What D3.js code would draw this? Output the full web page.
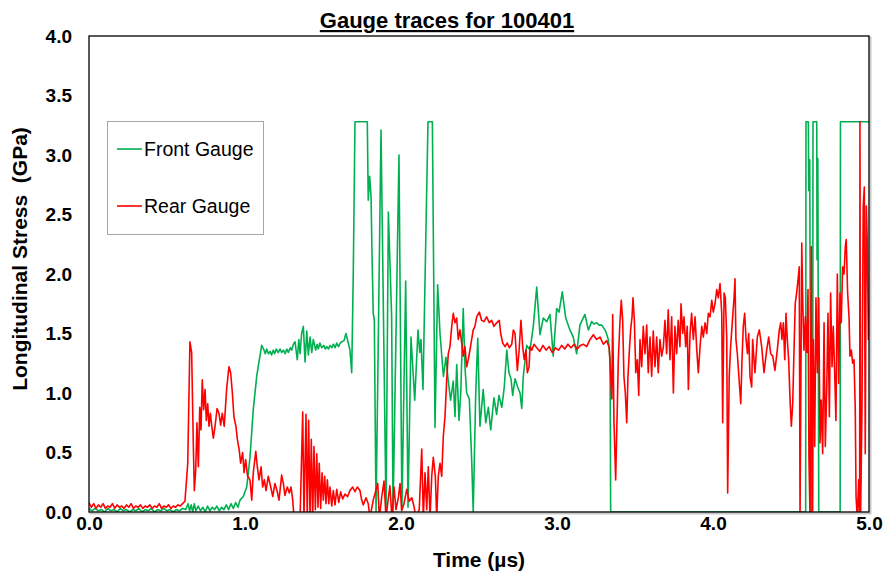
<!DOCTYPE html>
<html>
<head>
<meta charset="utf-8">
<script src="https://cdn.jsdelivr.net/npm/d3@7/dist/d3.min.js"></script>
<style>
  html, body { margin: 0; padding: 0; background: #fff; }
  svg { display: block; font-family: "Liberation Sans", Arial, Helvetica, sans-serif; }
</style>
</head>
<body>
<svg id="chart" width="885" height="576"></svg>
<script>
// Gauge traces for shot 100401 — time in µs, stress in GPa
const chartTitle = "Gauge traces for 100401";
const xTicks = [0, 1, 2, 3, 4, 5];
const yTicks = [0, 0.5, 1, 1.5, 2, 2.5, 3, 3.5, 4];
const seriesNames = ["Front Gauge", "Rear Gauge"];
const seriesColors = ["#00b050", "#ff0000"];

// Front gauge: [time, stress]
const frontGauge = [
  [0,0.03],[0.02,0.01],[0.04,0.03],[0.06,0.01],[0.08,0.02],[0.10,0.00],[0.12,0.03],[0.14,0.01],[0.16,0.02],[0.18,0.00],
  [0.20,0.03],[0.22,0.01],[0.24,0.02],[0.26,0.00],[0.28,0.02],[0.30,0.01],[0.32,0.03],[0.34,0.00],[0.36,0.02],[0.38,0.01],
  [0.40,0.03],[0.42,0.00],[0.44,0.02],[0.46,0.01],[0.48,0.03],[0.50,0.01],[0.52,0.02],[0.54,0.00],[0.56,0.02],[0.58,0.01],
  [0.60,0.03],[0.62,0.02],[0.635,0.07],[0.645,0.01],[0.655,0.06],[0.665,0.00],[0.675,0.07],[0.685,0.01],[0.70,0.05],[0.715,0.01],
  [0.73,0.04],[0.745,0.00],[0.76,0.05],[0.775,0.01],[0.79,0.04],[0.805,0.02],[0.82,0.05],[0.835,0.01],[0.85,0.04],[0.865,0.02],
  [0.88,0.06],[0.895,0.02],[0.91,0.07],[0.925,0.03],[0.94,0.08],[0.955,0.04],[0.968,0.10],[0.989,0.13],[1.011,0.21],[1.032,0.46],
  [1.053,0.86],[1.075,1.14],[1.092,1.28],[1.107,1.40],[1.122,1.36],[1.13,1.33],[1.139,1.37],[1.15,1.33],[1.16,1.35],[1.17,1.32],
  [1.181,1.36],[1.19,1.33],[1.20,1.37],[1.213,1.34],[1.225,1.37],[1.235,1.34],[1.246,1.36],[1.257,1.33],[1.268,1.37],[1.278,1.34],
  [1.29,1.38],[1.299,1.36],[1.31,1.41],[1.321,1.43],[1.335,1.28],[1.345,1.45],[1.353,1.33],[1.363,1.50],[1.374,1.56],[1.385,1.26],
  [1.396,1.52],[1.406,1.32],[1.417,1.47],[1.428,1.34],[1.438,1.45],[1.453,1.36],[1.462,1.41],[1.47,1.37],[1.48,1.42],[1.492,1.38],
  [1.505,1.40],[1.515,1.37],[1.524,1.39],[1.535,1.37],[1.545,1.40],[1.556,1.38],[1.567,1.41],[1.578,1.38],[1.588,1.42],[1.60,1.39],
  [1.61,1.42],[1.62,1.43],[1.635,1.44],[1.647,1.50],[1.662,1.42],[1.673,1.36],[1.684,1.17],[1.694,2.00],[1.705,3.28],[1.784,3.28],
  [1.79,2.62],[1.799,2.82],[1.808,2.65],[1.814,2.18],[1.822,1.67],[1.829,1.61],[1.84,0.00],[1.872,3.21],[1.904,0.00],[1.919,2.52],
  [1.94,1.64],[1.949,0.00],[1.987,3.00],[2.006,0.03],[2.03,1.94],[2.045,0.04],[2.064,1.47],[2.088,0.94],[2.109,1.53],[2.12,1.34],
  [2.128,1.45],[2.141,1.03],[2.173,3.28],[2.201,3.28],[2.218,0.71],[2.235,1.91],[2.25,1.50],[2.272,1.14],[2.288,1.30],[2.303,1.10],
  [2.318,0.94],[2.335,1.10],[2.346,0.80],[2.357,1.24],[2.372,0.77],[2.383,1.00],[2.399,1.71],[2.41,1.22],[2.421,1.00],[2.438,0.95],
  [2.453,0.44],[2.463,0.00],[2.479,1.00],[2.492,1.46],[2.506,0.72],[2.527,1.03],[2.543,0.75],[2.56,0.88],[2.575,0.69],[2.596,0.96],
  [2.613,0.82],[2.628,0.98],[2.646,0.88],[2.662,1.05],[2.678,1.36],[2.692,1.17],[2.705,1.12],[2.716,0.98],[2.731,1.12],[2.748,1.05],
  [2.763,1.00],[2.774,0.87],[2.784,1.14],[2.806,1.40],[2.827,1.36],[2.848,1.56],[2.87,1.89],[2.891,1.49],[2.912,1.63],[2.934,1.60],
  [2.955,1.66],[2.976,1.31],[2.998,1.71],[3.013,1.68],[3.034,1.85],[3.056,1.63],[3.083,1.53],[3.104,1.47],[3.126,1.33],[3.147,1.57],
  [3.179,1.66],[3.201,1.53],[3.222,1.60],[3.238,1.58],[3.254,1.59],[3.27,1.57],[3.287,1.57],[3.312,1.52],[3.329,1.45],[3.34,1.28],
  [3.344,0.00],[4.594,0.00],[4.596,3.28],[4.611,3.28],[4.614,2.70],[4.62,2.96],[4.628,0.00],[4.639,0.00],[4.641,3.28],[4.665,3.28],
  [4.667,2.12],[4.672,2.97],[4.678,0.00],[4.815,0.00],[4.817,3.28],[5.0,3.28]
];

// Rear gauge: [time, stress]
const rearGauge = [
  [0,0.08],[0.015,0.04],[0.03,0.07],[0.045,0.03],[0.06,0.06],[0.075,0.04],[0.09,0.07],[0.105,0.03],[0.12,0.05],[0.135,0.04],
  [0.15,0.07],[0.165,0.03],[0.18,0.06],[0.195,0.04],[0.21,0.05],[0.225,0.03],[0.24,0.06],[0.255,0.04],[0.27,0.07],[0.285,0.03],
  [0.30,0.05],[0.315,0.04],[0.33,0.06],[0.345,0.03],[0.36,0.05],[0.375,0.04],[0.39,0.06],[0.405,0.03],[0.42,0.05],[0.435,0.04],
  [0.45,0.07],[0.465,0.03],[0.48,0.05],[0.495,0.04],[0.51,0.06],[0.525,0.03],[0.54,0.05],[0.555,0.04],[0.57,0.06],[0.585,0.05],
  [0.60,0.07],[0.615,0.09],[0.633,0.41],[0.647,1.43],[0.658,1.34],[0.669,0.55],[0.675,0.18],[0.684,0.35],[0.692,0.75],[0.701,0.38],
  [0.71,0.88],[0.718,0.69],[0.726,1.11],[0.735,0.86],[0.744,1.03],[0.752,0.77],[0.761,0.91],[0.769,0.72],[0.778,0.83],[0.787,0.72],
  [0.797,0.62],[0.808,0.72],[0.821,0.87],[0.833,0.83],[0.844,0.73],[0.854,0.83],[0.867,0.72],[0.882,1.03],[0.897,1.22],[0.908,1.17],
  [0.919,1.00],[0.929,0.80],[0.942,0.72],[0.951,0.61],[0.963,0.52],[0.972,0.41],[0.985,0.50],[0.994,0.33],[1.004,0.44],[1.017,0.30],
  [1.032,0.27],[1.043,0.10],[1.053,0.33],[1.069,0.51],[1.079,0.38],[1.09,0.27],[1.103,0.38],[1.113,0.21],[1.124,0.27],[1.135,0.18],
  [1.149,0.30],[1.165,0.21],[1.178,0.13],[1.192,0.24],[1.207,0.17],[1.218,0.10],[1.235,0.31],[1.246,0.24],[1.256,0.14],[1.271,0.21],
  [1.284,0.16],[1.295,0.21],[1.306,0.10],[1.314,-0.05],[1.327,-0.05],[1.353,-0.05],[1.37,0.84],[1.378,-0.05],[1.391,0.82],[1.399,-0.05],
  [1.408,0.77],[1.417,-0.05],[1.425,0.61],[1.434,-0.05],[1.442,0.55],[1.451,0.02],[1.46,0.49],[1.468,0.04],[1.476,0.41],[1.485,0.03],
  [1.494,0.33],[1.502,0.10],[1.511,0.30],[1.519,0.07],[1.528,0.27],[1.537,0.07],[1.545,0.21],[1.556,0.05],[1.566,0.18],[1.577,0.06],
  [1.588,0.19],[1.601,0.08],[1.613,0.17],[1.626,0.11],[1.641,0.15],[1.658,0.13],[1.673,0.18],[1.69,0.21],[1.705,0.17],[1.72,0.21],
  [1.737,0.18],[1.748,0.10],[1.758,0.06],[1.776,0.12],[1.79,0.07],[1.801,-0.05],[1.822,0.10],[1.851,0.24],[1.861,-0.05],[1.876,0.12],
  [1.891,0.26],[1.904,-0.05],[1.919,0.12],[1.929,0.22],[1.942,-0.05],[1.955,0.21],[1.968,0.02],[1.983,0.12],[1.994,0.24],[2.004,0.01],
  [2.019,0.07],[2.037,0.19],[2.053,0.09],[2.069,0.12],[2.083,0.05],[2.096,-0.05],[2.117,0.02],[2.133,0.53],[2.143,-0.05],[2.154,0.33],
  [2.165,0.02],[2.175,0.38],[2.186,-0.05],[2.197,0.30],[2.207,0.46],[2.22,0.30],[2.229,-0.05],[2.239,0.30],[2.25,0.41],[2.261,0.30],
  [2.271,0.63],[2.282,0.80],[2.293,1.11],[2.303,1.33],[2.314,1.39],[2.325,1.56],[2.335,1.67],[2.346,1.59],[2.357,1.63],[2.367,1.45],
  [2.378,1.53],[2.389,1.42],[2.399,1.31],[2.41,1.39],[2.421,1.22],[2.431,1.28],[2.442,1.36],[2.453,1.45],[2.463,1.53],[2.474,1.56],
  [2.485,1.64],[2.502,1.68],[2.517,1.61],[2.532,1.60],[2.549,1.64],[2.566,1.59],[2.581,1.61],[2.596,1.56],[2.613,1.59],[2.63,1.61],
  [2.639,1.50],[2.652,1.42],[2.667,1.39],[2.681,1.42],[2.694,1.38],[2.71,1.41],[2.72,1.53],[2.731,1.50],[2.746,1.19],[2.756,1.34],
  [2.769,1.61],[2.78,1.39],[2.79,1.28],[2.801,1.36],[2.81,1.17],[2.821,1.22],[2.827,1.39],[2.838,1.36],[2.853,1.41],[2.87,1.38],
  [2.89,1.35],[2.91,1.40],[2.93,1.36],[2.95,1.39],[2.97,1.34],[2.99,1.38],[3.01,1.36],[3.03,1.40],[3.05,1.37],[3.07,1.41],
  [3.09,1.38],[3.11,1.41],[3.13,1.37],[3.15,1.40],[3.169,1.41],[3.19,1.39],[3.212,1.45],[3.233,1.49],[3.254,1.45],[3.276,1.47],
  [3.297,1.41],[3.319,1.44],[3.335,1.38],[3.351,0.95],[3.357,1.66],[3.365,0.77],[3.376,0.27],[3.387,0.91],[3.393,1.28],[3.404,1.61],
  [3.412,1.78],[3.421,1.61],[3.429,1.14],[3.438,1.00],[3.447,0.75],[3.455,1.14],[3.464,1.36],[3.472,1.53],[3.481,1.64],[3.487,1.80],
  [3.496,1.61],[3.505,1.17],[3.515,1.28],[3.524,0.98],[3.532,1.45],[3.543,1.22],[3.553,1.56],[3.564,1.33],[3.575,1.57],[3.585,1.17],
  [3.596,1.47],[3.607,1.14],[3.617,1.52],[3.628,1.22],[3.639,1.47],[3.649,1.17],[3.66,1.45],[3.671,1.31],[3.682,1.39],[3.692,1.61],
  [3.703,1.33],[3.713,1.70],[3.724,1.28],[3.735,1.64],[3.746,1.00],[3.756,1.56],[3.767,1.33],[3.777,1.61],[3.788,1.39],[3.795,1.75],
  [3.806,1.50],[3.814,1.64],[3.825,1.39],[3.835,1.56],[3.842,1.03],[3.853,1.50],[3.863,1.67],[3.874,1.45],[3.885,1.64],[3.896,1.36],
  [3.906,1.17],[3.917,1.39],[3.928,1.56],[3.938,1.47],[3.949,1.59],[3.96,1.50],[3.97,1.67],[3.981,1.64],[3.992,1.78],[4.002,1.68],
  [4.013,1.75],[4.024,1.87],[4.034,1.80],[4.045,1.92],[4.056,1.67],[4.062,0.75],[4.071,1.84],[4.079,1.80],[4.088,1.47],[4.094,0.16],
  [4.104,1.14],[4.113,1.39],[4.126,1.64],[4.135,1.80],[4.141,1.96],[4.147,1.45],[4.156,1.33],[4.169,1.08],[4.178,0.91],[4.186,1.28],
  [4.194,1.56],[4.203,1.67],[4.212,1.45],[4.221,1.33],[4.229,1.50],[4.237,1.14],[4.248,1.05],[4.254,1.45],[4.269,1.17],[4.284,1.47],
  [4.297,1.53],[4.312,1.39],[4.327,1.17],[4.344,1.36],[4.357,1.47],[4.37,1.33],[4.383,1.31],[4.397,1.19],[4.412,1.36],[4.425,1.53],
  [4.434,1.59],[4.442,1.45],[4.451,1.59],[4.46,1.28],[4.468,1.67],[4.476,1.45],[4.485,1.28],[4.494,0.94],[4.502,0.72],[4.511,0.91],
  [4.519,1.34],[4.527,1.75],[4.536,1.84],[4.545,1.95],[4.553,2.06],[4.558,-0.05],[4.569,2.26],[4.575,1.78],[4.583,1.36],[4.592,1.64],
  [4.601,1.34],[4.609,1.87],[4.615,0.46],[4.622,-0.05],[4.63,2.23],[4.636,-0.05],[4.643,1.45],[4.652,0.55],[4.66,1.80],[4.669,1.17],
  [4.678,1.80],[4.686,0.58],[4.694,0.94],[4.703,0.49],[4.712,1.59],[4.72,0.55],[4.729,1.03],[4.737,1.67],[4.746,0.80],[4.754,1.84],
  [4.763,1.22],[4.771,1.56],[4.78,1.17],[4.788,0.77],[4.797,2.00],[4.806,1.08],[4.814,1.84],[4.822,1.59],[4.831,2.06],[4.84,2.00],
  [4.848,2.23],[4.854,2.29],[4.863,1.84],[4.872,1.64],[4.878,1.31],[4.887,1.36],[4.895,1.25],[4.904,1.28],[4.912,0.86],[4.917,0.13],
  [4.925,-0.05],[4.934,0.27],[4.94,-0.05],[4.942,3.28],[4.946,-0.05],[4.955,0.86],[4.963,2.57],[4.97,2.73],[4.976,0.49],[4.983,2.57],
  [4.989,2.26],[4.996,1.45],[5.0,1.73]
];

const series = [frontGauge, rearGauge];

const svg = d3.select("#chart");
const margin = { left: 89, top: 36, right: 16, bottom: 64 };
const W = 885, H = 576;
const plotW = W - margin.left - margin.right;   // 780
const plotH = H - margin.top - margin.bottom;   // 476

const x = d3.scaleLinear().domain([0, 5]).range([0, plotW]);
const y = d3.scaleLinear().domain([0, 4]).range([plotH, 0]);

// Title
svg.append("text")
  .attr("x", 447).attr("y", 28)
  .attr("text-anchor", "middle")
  .attr("font-size", 22).attr("font-weight", "bold")
  .attr("text-decoration", "underline")
  .text(chartTitle);

const g = svg.append("g").attr("transform", `translate(${margin.left},${margin.top})`);

// Soft shadow along the right and bottom of the plot frame
g.append("rect")
  .attr("x", 1.5).attr("y", 1.5).attr("width", plotW).attr("height", plotH)
  .attr("fill", "none").attr("stroke", "#c8c8c8").attr("stroke-width", 2);
g.append("rect")
  .attr("x", 0).attr("y", 0).attr("width", plotW).attr("height", plotH)
  .attr("fill", "#fff");

svg.append("defs").append("clipPath").attr("id", "plotClip")
  .append("rect").attr("x", 0).attr("y", 0).attr("width", plotW).attr("height", plotH);

const line = d3.line().x(d => x(d[0])).y(d => y(d[1]));

const traces = g.append("g").attr("clip-path", "url(#plotClip)");
series.forEach((data, i) => {
  traces.append("path")
    .datum(data)
    .attr("fill", "none")
    .attr("stroke", seriesColors[i])
    .attr("stroke-width", 1.6)
    .attr("stroke-linejoin", "round")
    .attr("d", line);
});

// Plot frame
g.append("rect")
  .attr("x", 0).attr("y", 0).attr("width", plotW).attr("height", plotH)
  .attr("fill", "none").attr("stroke", "#000").attr("stroke-width", 1.3);

// Axes (labels only; the frame carries the axis lines)
const xAxis = g.append("g")
  .attr("transform", `translate(0,${plotH})`)
  .call(d3.axisBottom(x).tickValues(xTicks).tickSize(0).tickPadding(5).tickFormat(d3.format(".1f")));
const yAxis = g.append("g")
  .call(d3.axisLeft(y).tickValues(yTicks).tickSize(0).tickPadding(17).tickFormat(d3.format(".1f")));
[xAxis, yAxis].forEach(a => {
  a.select(".domain").remove();
  a.selectAll("text")
    .attr("font-family", "'Liberation Sans', Arial, Helvetica, sans-serif")
    .attr("font-size", 19).attr("font-weight", "bold").attr("fill", "#000");
});

// Axis titles
svg.append("text")
  .attr("x", 479).attr("y", 567)
  .attr("text-anchor", "middle")
  .attr("font-size", 21).attr("font-weight", "bold")
  .text("Time (µs)");
svg.append("text")
  .attr("transform", "translate(27,259) rotate(-90)")
  .attr("text-anchor", "middle")
  .attr("font-size", 21).attr("font-weight", "bold")
  .attr("xml:space", "preserve")
  .style("white-space", "pre")
  .text("Longitudinal Stress  (GPa)");

// Legend
const legend = svg.append("g");
legend.append("rect")
  .attr("x", 107.5).attr("y", 121.5).attr("width", 156).attr("height", 113)
  .attr("fill", "#fff").attr("stroke", "#a6a6a6").attr("stroke-width", 1);
seriesNames.forEach((name, i) => {
  const ly = 149 + i * 57;
  legend.append("line")
    .attr("x1", 117).attr("x2", 142).attr("y1", ly).attr("y2", ly)
    .attr("stroke", seriesColors[i]).attr("stroke-width", 1.6);
  legend.append("text")
    .attr("x", 144).attr("y", ly + 7)
    .attr("font-size", 19.5)
    .text(name);
});
</script>
</body>
</html>
